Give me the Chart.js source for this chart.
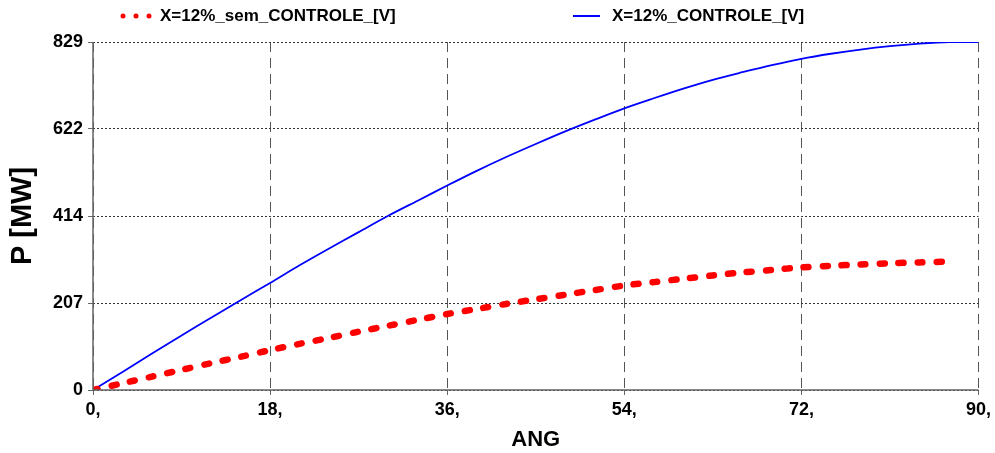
<!DOCTYPE html>
<html>
<head>
<meta charset="utf-8">
<script src="https://cdn.jsdelivr.net/npm/chart.js@4/dist/chart.umd.min.js"></script>
<style>
  html, body { margin: 0; padding: 0; background: #fff; }
  #wrap { width: 995px; height: 453px; position: relative; }
</style>
</head>
<body>
<div id="wrap"><canvas id="c" width="995" height="453"></canvas></div>
<script>
// Angles (degrees)
const angles = [0,3,6,9,12,15,18,21,24,27,30,33,36,39,42,45,48,51,54,57,60,63,66,69,72,75,78,81,84,87,90];
// X=12%_CONTROLE_[V]  (P in MW)
const pControle = [0,43,87,130,172,214,255,297,337,376,415,451,487,522,555,586,616,644,671,695,718,739,757,774,789,801,811,819,825,829,829];
// X=12%_sem_CONTROLE_[V]  (P in MW), ends near 87 deg
const pSemControle = [0,16,32,48,64,79,95,110,124,139,153,167,181,193,205,216,227,238,249,257,265,273,280,286,292,296,299,302,304,306];
const seriesNames = ["X=12%_sem_CONTROLE_[V]", "X=12%_CONTROLE_[V]"];
const yTicks = [0,207,414,622,829];
const xTicks = [0,18,36,54,72,90];
const xTitle = "ANG";
const yTitle = "P [MW]";

const ptsSem = pSemControle.map((v,i)=>({x: angles[i], y: v}));
const ptsCon = pControle.map((v,i)=>({x: angles[i], y: v}));

const FONT = "'Liberation Sans', Arial, sans-serif";

const legendPlugin = {
  id: 'customLegend',
  afterDatasetsDraw(chart) {
    // solid axis lines
    const ctx = chart.ctx;
    const a = chart.chartArea;
    ctx.save();
    ctx.strokeStyle = '#666';
    ctx.lineWidth = 1.5;
    ctx.setLineDash([]);
    ctx.beginPath();
    ctx.moveTo(a.left, a.top);
    ctx.lineTo(a.left, a.bottom);
    ctx.lineTo(a.right, a.bottom);
    ctx.stroke();
    ctx.restore();
  },
  afterDraw(chart) {
    const ctx = chart.ctx;
    ctx.save();
    ctx.font = "bold 17px " + FONT;
    ctx.textBaseline = 'middle';
    const y = 16;
    ctx.fillStyle = '#ff0000';
    [123,136,149].forEach(x => { ctx.beginPath(); ctx.arc(x, y, 2.5, 0, Math.PI*2); ctx.fill(); });
    ctx.fillStyle = '#000';
    ctx.fillText(seriesNames[0], 160, y);
    ctx.strokeStyle = '#0000ff';
    ctx.lineWidth = 2;
    ctx.beginPath(); ctx.moveTo(573, y); ctx.lineTo(600, y); ctx.stroke();
    ctx.fillText(seriesNames[1], 612, y);
    ctx.restore();
  }
};

new Chart(document.getElementById('c'), {
  type: 'line',
  data: {
    datasets: [
      {
        label: seriesNames[0],
        data: ptsSem,
        borderColor: '#ff0000',
        borderWidth: 6.5,
        borderDash: [5, 14],
        borderCapStyle: 'round',
        pointRadius: 0,
        tension: 0.3,
        fill: false
      },
      {
        label: seriesNames[1],
        data: ptsCon,
        borderColor: '#0000ff',
        borderWidth: 1.8,
        pointRadius: 0,
        tension: 0.3,
        fill: false
      }
    ]
  },
  options: {
    responsive: false,
    animation: false,
    layout: { padding: { top: 42, right: 15, left: 0, bottom: 0 } },
    plugins: {
      legend: { display: false },
      tooltip: { enabled: false }
    },
    scales: {
      x: {
        type: 'linear',
        min: 0, max: 90,
        afterBuildTicks(scale) { scale.ticks = xTicks.map(v => ({value: v})); },
        afterFit(scale) { scale.height = 63; },
        ticks: {
          callback: v => v + ',',
          font: { family: FONT, size: 18, weight: 'bold' },
          color: '#000',
          padding: 4,
          maxRotation: 0
        },
        grid: {
          color: '#555',
          lineWidth: 1,
          tickLength: 5,
          tickColor: '#666',
          tickBorderDash: [],
          drawTicks: true
        },
        border: { display: false, dash: [10, 6] },
        title: {
          display: true,
          text: xTitle,
          font: { family: FONT, size: 22, weight: 'bold' },
          color: '#000',
          padding: { top: 2, bottom: 0 }
        }
      },
      y: {
        type: 'linear',
        min: 0, max: 829,
        afterBuildTicks(scale) { scale.ticks = yTicks.map(v => ({value: v})); },
        afterFit(scale) { scale.width = 93; },
        ticks: {
          font: { family: FONT, size: 18, weight: 'bold' },
          color: '#000',
          padding: 5
        },
        grid: {
          color: '#333',
          lineWidth: 1,
          tickLength: 5,
          tickColor: '#666',
          tickBorderDash: [],
          drawTicks: true
        },
        border: { display: false, dash: [2, 2] },
        title: {
          display: true,
          text: yTitle,
          font: { family: FONT, size: 29, weight: 'bold' },
          color: '#000',
          padding: { top: 6, bottom: 0 }
        }
      }
    }
  },
  plugins: [legendPlugin]
});
</script>
</body>
</html>
